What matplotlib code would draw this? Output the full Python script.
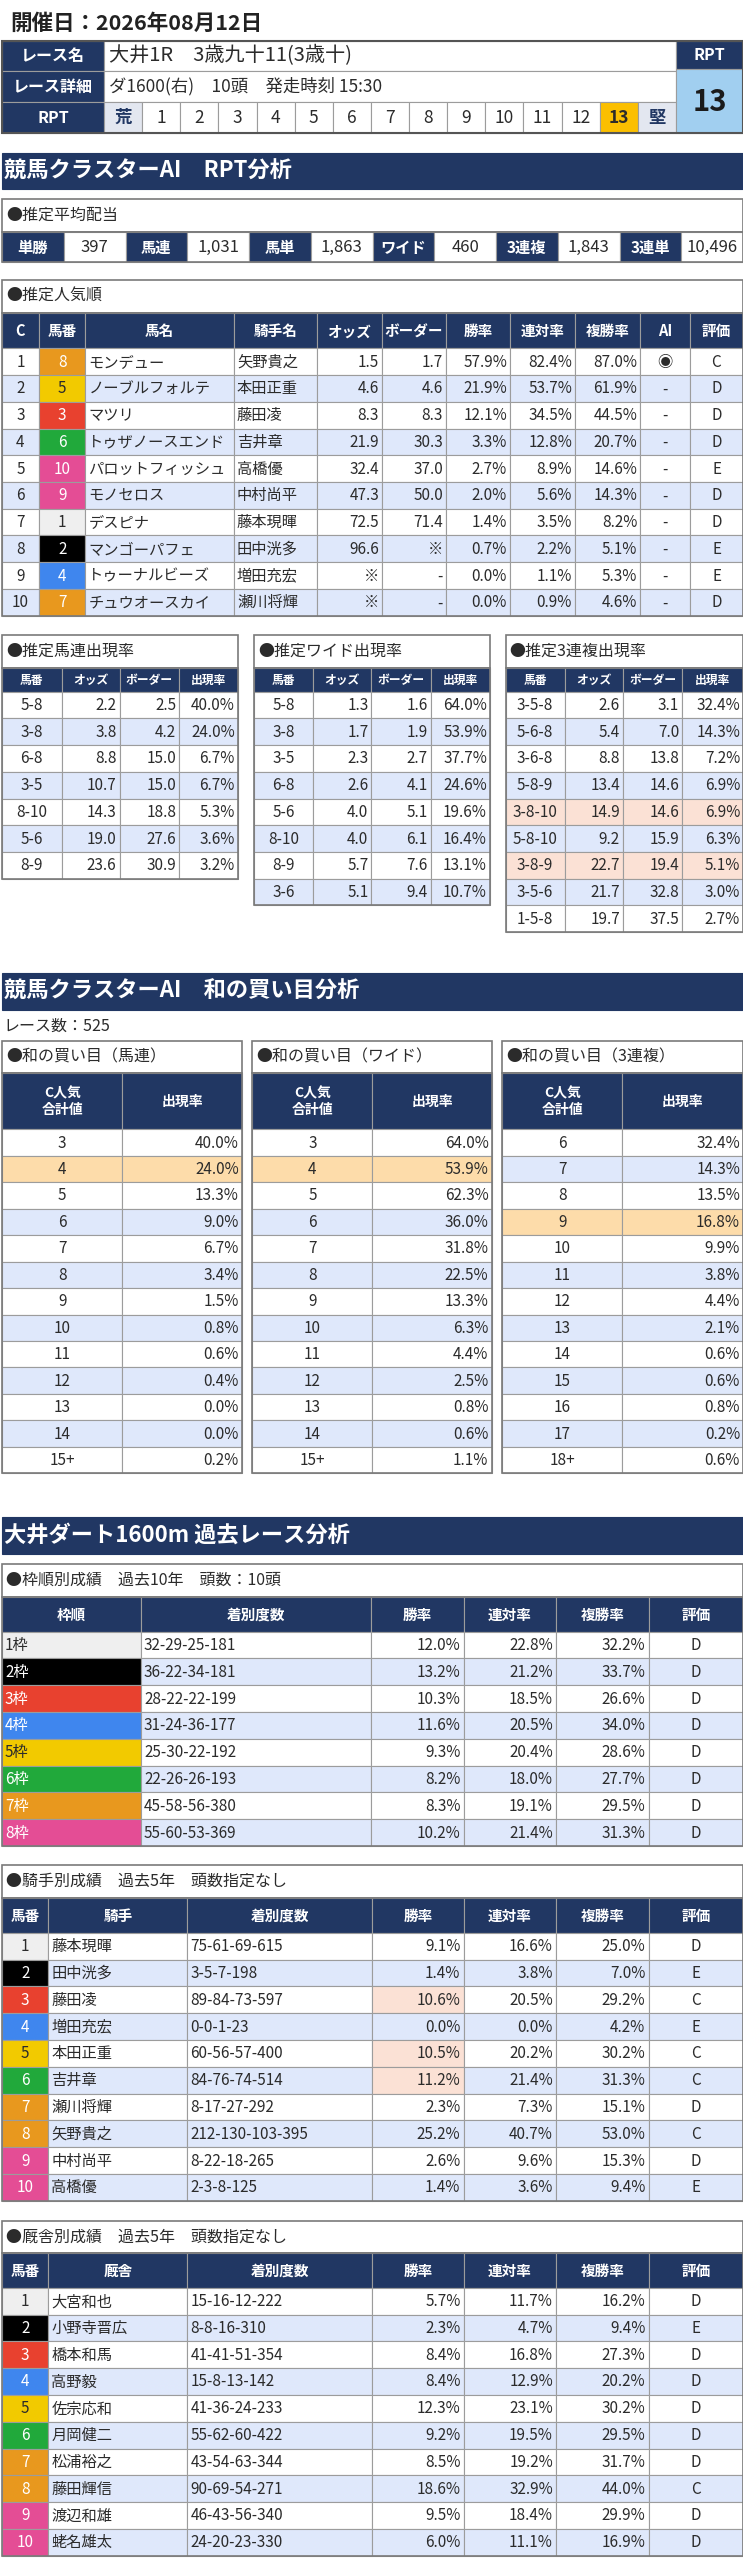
import matplotlib
matplotlib.use("Agg")
import matplotlib.pyplot as plt
from matplotlib.patches import Rectangle

plt.rcParams['font.family'] = ['Noto Sans CJK JP', 'DejaVu Sans']

# ---- data ----
race_date = "開催日：2026年08月12日"
race_name = "大井1R　3歳九十11(3歳十)"
race_detail = "ダ1600(右)　10頭　発走時刻 15:30"
rpt_scale = ["荒"] + [str(i) for i in range(1, 14)] + ["堅"]
rpt_value = 13

payout_labels = ["単勝", "馬連", "馬単", "ワイド", "3連複", "3連単"]
payout_values = ["397", "1,031", "1,863", "460", "1,843", "10,496"]

pop_rank = [1, 2, 3, 4, 5, 6, 7, 8, 9, 10]
pop_num = [8, 5, 3, 6, 10, 9, 1, 2, 4, 7]
pop_name = ["モンデュー", "ノーブルフォルテ", "マツリ", "トゥザノースエンド", "パロットフィッシュ",
            "モノセロス", "デスピナ", "マンゴーパフェ", "トゥーナルビーズ", "チュウオースカイ"]
pop_jockey = ["矢野貴之", "本田正重", "藤田凌", "吉井章", "高橋優",
              "中村尚平", "藤本現暉", "田中洸多", "増田充宏", "瀬川将輝"]
pop_odds = ["1.5", "4.6", "8.3", "21.9", "32.4", "47.3", "72.5", "96.6", "※", "※"]
pop_border = ["1.7", "4.6", "8.3", "30.3", "37.0", "50.0", "71.4", "※", "-", "-"]
pop_win = ["57.9%", "21.9%", "12.1%", "3.3%", "2.7%", "2.0%", "1.4%", "0.7%", "0.0%", "0.0%"]
pop_ren = ["82.4%", "53.7%", "34.5%", "12.8%", "8.9%", "5.6%", "3.5%", "2.2%", "1.1%", "0.9%"]
pop_fuku = ["87.0%", "61.9%", "44.5%", "20.7%", "14.6%", "14.3%", "8.2%", "5.1%", "5.3%", "4.6%"]
pop_ai = ["◉", "-", "-", "-", "-", "-", "-", "-", "-", "-"]
pop_eval = ["C", "D", "D", "D", "E", "D", "D", "E", "E", "D"]

umaren_combo = ["5-8", "3-8", "6-8", "3-5", "8-10", "5-6", "8-9"]
umaren_odds = ["2.2", "3.8", "8.8", "10.7", "14.3", "19.0", "23.6"]
umaren_border = ["2.5", "4.2", "15.0", "15.0", "18.8", "27.6", "30.9"]
umaren_rate = ["40.0%", "24.0%", "6.7%", "6.7%", "5.3%", "3.6%", "3.2%"]

wide_combo = ["5-8", "3-8", "3-5", "6-8", "5-6", "8-10", "8-9", "3-6"]
wide_odds = ["1.3", "1.7", "2.3", "2.6", "4.0", "4.0", "5.7", "5.1"]
wide_border = ["1.6", "1.9", "2.7", "4.1", "5.1", "6.1", "7.6", "9.4"]
wide_rate = ["64.0%", "53.9%", "37.7%", "24.6%", "19.6%", "16.4%", "13.1%", "10.7%"]

trio_combo = ["3-5-8", "5-6-8", "3-6-8", "5-8-9", "3-8-10", "5-8-10", "3-8-9", "3-5-6", "1-5-8"]
trio_odds = ["2.6", "5.4", "8.8", "13.4", "14.9", "9.2", "22.7", "21.7", "19.7"]
trio_border = ["3.1", "7.0", "13.8", "14.6", "14.6", "15.9", "19.4", "32.8", "37.5"]
trio_rate = ["32.4%", "14.3%", "7.2%", "6.9%", "6.9%", "6.3%", "5.1%", "3.0%", "2.7%"]
trio_marked = ["3-8-10", "3-8-9"]

race_count = 525
sum_umaren_keys = ["3", "4", "5", "6", "7", "8", "9", "10", "11", "12", "13", "14", "15+"]
sum_umaren_rate = ["40.0%", "24.0%", "13.3%", "9.0%", "6.7%", "3.4%", "1.5%", "0.8%", "0.6%", "0.4%", "0.0%", "0.0%", "0.2%"]
sum_wide_keys = ["3", "4", "5", "6", "7", "8", "9", "10", "11", "12", "13", "14", "15+"]
sum_wide_rate = ["64.0%", "53.9%", "62.3%", "36.0%", "31.8%", "22.5%", "13.3%", "6.3%", "4.4%", "2.5%", "0.8%", "0.6%", "1.1%"]
sum_trio_keys = ["6", "7", "8", "9", "10", "11", "12", "13", "14", "15", "16", "17", "18+"]
sum_trio_rate = ["32.4%", "14.3%", "13.5%", "16.8%", "9.9%", "3.8%", "4.4%", "2.1%", "0.6%", "0.6%", "0.8%", "0.2%", "0.6%"]
sum_umaren_pick = "4"
sum_wide_pick = "4"
sum_trio_pick = "9"

frame_label = ["1枠", "2枠", "3枠", "4枠", "5枠", "6枠", "7枠", "8枠"]
frame_record = ["32-29-25-181", "36-22-34-181", "28-22-22-199", "31-24-36-177",
                "25-30-22-192", "22-26-26-193", "45-58-56-380", "55-60-53-369"]
frame_win = ["12.0%", "13.2%", "10.3%", "11.6%", "9.3%", "8.2%", "8.3%", "10.2%"]
frame_ren = ["22.8%", "21.2%", "18.5%", "20.5%", "20.4%", "18.0%", "19.1%", "21.4%"]
frame_fuku = ["32.2%", "33.7%", "26.6%", "34.0%", "28.6%", "27.7%", "29.5%", "31.3%"]
frame_eval = ["D"] * 8

jockey_name = ["藤本現暉", "田中洸多", "藤田凌", "増田充宏", "本田正重",
               "吉井章", "瀬川将輝", "矢野貴之", "中村尚平", "高橋優"]
jockey_record = ["75-61-69-615", "3-5-7-198", "89-84-73-597", "0-0-1-23", "60-56-57-400",
                 "84-76-74-514", "8-17-27-292", "212-130-103-395", "8-22-18-265", "2-3-8-125"]
jockey_win = ["9.1%", "1.4%", "10.6%", "0.0%", "10.5%", "11.2%", "2.3%", "25.2%", "2.6%", "1.4%"]
jockey_ren = ["16.6%", "3.8%", "20.5%", "0.0%", "20.2%", "21.4%", "7.3%", "40.7%", "9.6%", "3.6%"]
jockey_fuku = ["25.0%", "7.0%", "29.2%", "4.2%", "30.2%", "31.3%", "15.1%", "53.0%", "15.3%", "9.4%"]
jockey_eval = ["D", "E", "C", "E", "C", "C", "D", "C", "D", "E"]
jockey_win_marked = [False, False, True, False, True, True, False, False, False, False]

trainer_name = ["大宮和也", "小野寺晋広", "橋本和馬", "高野毅", "佐宗応和",
                "月岡健二", "松浦裕之", "藤田輝信", "渡辺和雄", "蛯名雄太"]
trainer_record = ["15-16-12-222", "8-8-16-310", "41-41-51-354", "15-8-13-142", "41-36-24-233",
                  "55-62-60-422", "43-54-63-344", "90-69-54-271", "46-43-56-340", "24-20-23-330"]
trainer_win = ["5.7%", "2.3%", "8.4%", "8.4%", "12.3%", "9.2%", "8.5%", "18.6%", "9.5%", "6.0%"]
trainer_ren = ["11.7%", "4.7%", "16.8%", "12.9%", "23.1%", "19.5%", "19.2%", "32.9%", "18.4%", "11.1%"]
trainer_fuku = ["16.2%", "9.4%", "27.3%", "20.2%", "30.2%", "29.5%", "31.7%", "44.0%", "29.9%", "16.9%"]
trainer_eval = ["D", "E", "D", "D", "D", "D", "D", "C", "D", "D"]

# ---- style ----
NAVY = '#213763'
ROW_BLUE = '#dfe8fb'
GRID = '#9c9c9c'
BORDER = '#7a7a7a'
INK = '#2b2b2b'
ORANGE_HL = '#fddcaa'
PEACH_HL = '#fbe1d5'
# frame colours, frames 1..8
FRAME_BG = ['#efefef', '#000000', '#e8412f', '#3f86ee', '#f2ca00', '#21a93b', '#e8981e', '#e44d95']
FRAME_FG = [INK, 'white', 'white', 'white', INK, 'white', 'white', 'white']
horse_frame = [1, 2, 3, 4, 5, 6, 7, 7, 8, 8]  # 10 runners

fig = plt.figure(figsize=(7.43, 25.6), dpi=100)
ax = fig.add_axes([0, 0, 1, 1])
ax.set_xlim(0, 743)
ax.set_ylim(2560, 0)
ax.axis('off')


def box(x0, y0, x1, y1, fc='white', ec=GRID, lw=0.8, z=1):
    ax.add_patch(Rectangle((x0, y0), x1 - x0, y1 - y0, facecolor=fc,
                           edgecolor=ec, linewidth=lw, zorder=z))


def txt(x, y, s, size=11, ha='left', color=INK, weight='normal'):
    ax.text(x, y, s, fontsize=size, ha=ha, va='center', color=color,
            fontweight=weight, zorder=5, linespacing=1.25)


def cell(x0, x1, y0, y1, s, align='center', fc='white', color=INK, size=11, weight='normal'):
    box(x0, y0, x1, y1, fc)
    if align == 'center':
        tx = (x0 + x1) / 2
    elif align == 'left':
        tx = x0 + 3
    else:
        tx = x1 - 3
    txt(tx, (y0 + y1) / 2 + 0.5, s, size, align, color, weight)


def section(y0, y1, s):
    box(2, y0, 743, y1, NAVY, ec=NAVY)
    txt(4, (y0 + y1) / 2, s, 16, 'left', 'white', 'bold')


def label_box(x0, x1, y0, y1, s):
    box(x0, y0, x1, y1, 'white', ec=BORDER, lw=1.2)
    txt(x0 + 4, (y0 + y1) / 2, s, 11.5)


def grid_table(xs, y_head0, y_head1, row_h, headers, rows, aligns, fills, head_size=10.5, size=11):
    for j, h in enumerate(headers):
        cell(xs[j], xs[j + 1], y_head0, y_head1, h, 'center', NAVY, 'white', head_size, 'bold')
    for i, row in enumerate(rows):
        y0 = y_head1 + i * row_h
        for j, v in enumerate(row):
            fc, fg = fills(i, j)
            cell(xs[j], xs[j + 1], y0, y0 + row_h, v, aligns[j], fc, fg, size)
    yb = y_head1 + len(rows) * row_h
    box(xs[0], y_head0, xs[-1], yb, 'none', ec=BORDER, lw=1.2, z=3)


def stripe(i):
    return 'white' if i % 2 == 0 else ROW_BLUE


# ---- header ----
txt(10, 23, race_date, 15.5, weight='bold', color='#222')
hy = [40.7, 71.0, 101.7, 133.0]
for k, lab in enumerate(["レース名", "レース詳細", "RPT"]):
    cell(2, 104, hy[k], hy[k + 1], lab, 'center', NAVY, 'white', 11.5, 'bold')
box(104, hy[0], 676, hy[1])
txt(109, (hy[0] + hy[1]) / 2, race_name, 14.5)
box(104, hy[1], 676, hy[2])
txt(109, (hy[1] + hy[2]) / 2, race_detail, 12.5)
cw = (676 - 104) / len(rpt_scale)
for k, s in enumerate(rpt_scale):
    if s == str(rpt_value):
        fc, fg = '#fbbf00', INK
    elif k in (0, len(rpt_scale) - 1):
        fc, fg = '#e3e7f0', NAVY
    else:
        fc, fg = 'white', INK
    cell(104 + k * cw, 104 + (k + 1) * cw, hy[2], hy[3], s, 'center', fc, fg, 12.5,
         'bold' if fc != 'white' else 'normal')
cell(676, 743, hy[0], 69.3, "RPT", 'center', NAVY, 'white', 11.5, 'bold')
cell(676, 743, 69.3, hy[3], str(rpt_value), 'center', '#a1cff0', '#1b1b1b', 21, 'bold')
box(2, hy[0], 743, hy[3], 'none', ec='#555555', lw=1.5, z=3)

# ---- RPT analysis ----
section(153, 189, "競馬クラスターAI　RPT分析")

label_box(2, 743, 199, 232, "●推定平均配当")
pw = (743 - 2) / (2 * len(payout_labels))
for k in range(len(payout_labels)):
    xa = 2 + 2 * k * pw
    cell(xa, xa + pw, 232, 262, payout_labels[k], 'center', NAVY, 'white', 11, 'bold')
    cell(xa + pw, xa + 2 * pw, 232, 262, payout_values[k], 'center', 'white', INK, 12)
box(2, 232, 743, 262, 'none', ec=BORDER, lw=1.2, z=3)

label_box(2, 743, 280, 313, "●推定人気順")
pop_x = [2, 39, 85.4, 234, 317, 382, 446, 510, 575, 640.4, 690, 743]
pop_rows = [[str(pop_rank[i]), str(pop_num[i]), pop_name[i], pop_jockey[i], pop_odds[i],
             pop_border[i], pop_win[i], pop_ren[i], pop_fuku[i], pop_ai[i], pop_eval[i]]
            for i in range(len(pop_rank))]


def pop_fill(i, j):
    if j == 1:
        f = horse_frame[pop_num[i] - 1] - 1
        return FRAME_BG[f], FRAME_FG[f]
    return stripe(i), INK


grid_table(pop_x, 313, 348.3, 26.74,
           ["C", "馬番", "馬名", "騎手名", "オッズ", "ボーダー", "勝率", "連対率", "複勝率", "AI", "評価"],
           pop_rows, ['center', 'center', 'left', 'left', 'right', 'right', 'right', 'right', 'right',
                      'center', 'center'], pop_fill)

small_x = [[2, 61.7, 119.5, 179.3, 238], [253.8, 313, 371.4, 430.7, 490], [505.7, 564.5, 622.9, 682.2, 743]]
small_titles = ["●推定馬連出現率", "●推定ワイド出現率", "●推定3連複出現率"]
small_data = [(umaren_combo, umaren_odds, umaren_border, umaren_rate),
              (wide_combo, wide_odds, wide_border, wide_rate),
              (trio_combo, trio_odds, trio_border, trio_rate)]
for t in range(3):
    xs = small_x[t]
    label_box(xs[0], xs[-1], 635, 668, small_titles[t])
    combo, odds, border, rate = small_data[t]
    rows = [[combo[i], odds[i], border[i], rate[i]] for i in range(len(combo))]

    def sfill(i, j, combo=combo):
        if combo[i] in trio_marked and combo is trio_combo:
            return PEACH_HL, INK
        return stripe(i), INK

    grid_table(xs, 668, 691.7, 26.7, ["馬番", "オッズ", "ボーダー", "出現率"], rows,
               ['center', 'right', 'right', 'right'], sfill, head_size=8.5)

# ---- sum analysis ----
section(973, 1010, "競馬クラスターAI　和の買い目分析")
txt(3, 1026, "レース数：%d" % race_count, 11.5)
sum_x = [[2, 122.4, 242], [252.4, 372.4, 491.5], [502, 622.4, 743]]
sum_titles = ["●和の買い目（馬連）", "●和の買い目（ワイド）", "●和の買い目（3連複）"]
sum_data = [(sum_umaren_keys, sum_umaren_rate, sum_umaren_pick),
            (sum_wide_keys, sum_wide_rate, sum_wide_pick),
            (sum_trio_keys, sum_trio_rate, sum_trio_pick)]
for t in range(3):
    xs = sum_x[t]
    label_box(xs[0], xs[-1], 1040.7, 1073, sum_titles[t])
    keys, rate, pick = sum_data[t]
    rows = [[keys[i], rate[i]] for i in range(len(keys))]

    def ufill(i, j, keys=keys, pick=pick):
        if keys[i] == pick:
            return ORANGE_HL, INK
        return stripe(i), INK

    grid_table(xs, 1073, 1129.3, 26.46, ["C人気\n合計値", "出現率"], rows,
               ['center', 'right'], ufill, head_size=10)

# ---- past races ----
section(1517, 1554, "大井ダート1600m 過去レース分析")

label_box(2, 743, 1564, 1597, "●枠順別成績　過去10年　頭数：10頭")
frame_x = [2, 141, 371.4, 463.5, 556, 648.5, 743]
rows = [[frame_label[i], frame_record[i], frame_win[i], frame_ren[i], frame_fuku[i], frame_eval[i]]
        for i in range(len(frame_label))]


def ffill(i, j):
    if j == 0:
        return FRAME_BG[i], FRAME_FG[i]
    return stripe(i), INK


grid_table(frame_x, 1597, 1631.7, 26.79, ["枠順", "着別度数", "勝率", "連対率", "複勝率", "評価"], rows,
           ['left', 'left', 'right', 'right', 'right', 'center'], ffill)

person_x = [2, 48.4, 187.4, 372.4, 463.5, 556, 648.5, 743]


def person_fill(marks):
    def f(i, j):
        if j == 0:
            fr = horse_frame[i] - 1
            return FRAME_BG[fr], FRAME_FG[fr]
        if j == 3 and marks[i]:
            return PEACH_HL, INK
        return stripe(i), INK
    return f


label_box(2, 743, 1865, 1898, "●騎手別成績　過去5年　頭数指定なし")
rows = [[str(i + 1), jockey_name[i], jockey_record[i], jockey_win[i], jockey_ren[i],
         jockey_fuku[i], jockey_eval[i]] for i in range(len(jockey_name))]
grid_table(person_x, 1898, 1932.7, 26.8, ["馬番", "騎手", "着別度数", "勝率", "連対率", "複勝率", "評価"],
           rows, ['center', 'left', 'left', 'right', 'right', 'right', 'center'],
           person_fill(jockey_win_marked))

label_box(2, 743, 2220.7, 2253, "●厩舎別成績　過去5年　頭数指定なし")
rows = [[str(i + 1), trainer_name[i], trainer_record[i], trainer_win[i], trainer_ren[i],
         trainer_fuku[i], trainer_eval[i]] for i in range(len(trainer_name))]
grid_table(person_x, 2253, 2287.7, 26.8, ["馬番", "厩舎", "着別度数", "勝率", "連対率", "複勝率", "評価"],
           rows, ['center', 'left', 'left', 'right', 'right', 'right', 'center'],
           person_fill([False] * len(trainer_name)))

fig.savefig("out.png", dpi=100, facecolor='white')
